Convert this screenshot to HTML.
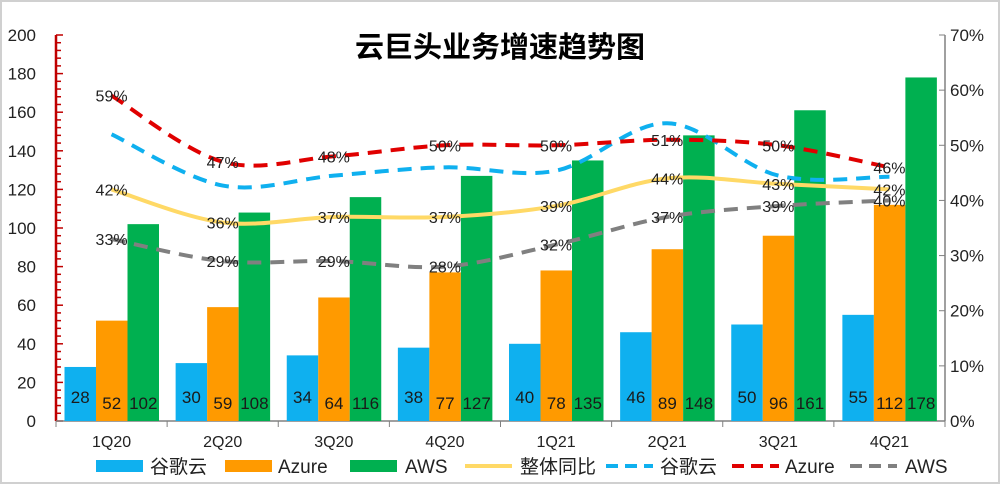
<!DOCTYPE html>
<html><head><meta charset="utf-8"><style>
html,body{margin:0;padding:0;background:#fff}
svg{display:block}
text{font-family:"Liberation Sans","Noto Sans CJK SC",sans-serif}
</style></head><body>
<svg id="c" width="1000" height="484" xmlns="http://www.w3.org/2000/svg"></svg>
<script>
const s=document.getElementById('c');let h='';
h+='<rect x="1" y="1" width="998" height="482" fill="#fff" stroke="#d0d0d0" stroke-width="2"/>';
h+='<text x="500" y="57" text-anchor="middle" font-size="29" font-weight="bold" fill="#000">云巨头业务增速趋势图</text>';
const X0=56,X1=945,Y0=421,Y200=35,gw=(X1-X0)/8;
const yv=v=>Y0-(Y0-Y200)*v/200, yp=p=>Y0-(Y0-Y200)*p/70;
// left labels and axis
for(let v=0;v<=200;v+=20){h+=`<text x="36" y="${yv(v)+6}" text-anchor="end" font-size="17" fill="#222">${v}</text>`;}
for(let v=0;v<=200;v+=4){h+=`<line x1="${X0}" x2="${v%20==0?63:61}" y1="${yv(v)}" y2="${yv(v)}" stroke="#c00000" stroke-width="1.5"/>`;}
h+=`<line x1="${X0}" x2="${X0}" y1="${Y200}" y2="${Y0}" stroke="#c00000" stroke-width="2.5"/>`;
// right
h+=`<line x1="${X1}" x2="${X1}" y1="${Y200}" y2="${Y0}" stroke="#808080" stroke-width="1.5"/>`;
for(let p=0;p<=70;p+=10){h+=`<line x1="${X1}" x2="${X1-6}" y1="${yp(p)}" y2="${yp(p)}" stroke="#808080"/><text x="950" y="${yp(p)+6}" font-size="17" fill="#222">${p}%</text>`;}
// bottom axis
h+=`<line x1="${X0}" x2="${X1}" y1="${Y0}" y2="${Y0}" stroke="#808080" stroke-width="1.5"/>`;
const cats=['1Q20','2Q20','3Q20','4Q20','1Q21','2Q21','3Q21','4Q21'];
const g=[28,30,34,38,40,46,50,55],a=[52,59,64,77,78,89,96,112],w=[102,108,116,127,135,148,161,178];
for(let i=0;i<=8;i++){const x=X0+i*gw;h+=`<line x1="${x}" x2="${x}" y1="${Y0}" y2="${Y0+6}" stroke="#808080"/>`;}
const bw=31.5;
for(let i=0;i<8;i++){
 const gx=X0+i*gw+8.5;
 h+=`<text x="${X0+i*gw+gw/2}" y="447" text-anchor="middle" font-size="16" fill="#222">${cats[i]}</text>`;
 [[g,'#0fb0ef',397],[a,'#ff9a00',403],[w,'#00b050',403]].forEach((d,k)=>{
  const x=gx+k*bw,y=yv(d[0][i]);
  h+=`<rect x="${x}" y="${y}" width="${bw}" height="${Y0-y}" fill="${d[1]}"/>`;
 });
 [[g,397],[a,403],[w,403]].forEach((d,k)=>{h+=`<text x="${gx+k*bw+bw/2}" y="${d[1]+6}" text-anchor="middle" font-size="17" fill="#1a1a1a">${d[0][i]}</text>`;});
}
function path(vals){const p=vals.map((v,i)=>[X0+i*gw+gw/2,yp(v)]);let d=`M${p[0][0]},${p[0][1]}`;
 for(let i=0;i<p.length-1;i++){const p0=p[i-1]||p[i],p1=p[i],p2=p[i+1],p3=p[i+2]||p2;const t=6;
 d+=` C${p1[0]+(p2[0]-p0[0])/t},${p1[1]+(p2[1]-p0[1])/t} ${p2[0]-(p3[0]-p1[0])/t},${p2[1]-(p3[1]-p1[1])/t} ${p2[0]},${p2[1]}`;}return d;}
const tot=[42,36,37,37,39,44,43,42],gg=[52,42.7,44.5,46,45.4,54,44.5,44.3],az=[59,47,48,50,50,51,50,46],aw=[33,29,29,28,32,37,39,40];
h+=`<path d="${path(tot)}" fill="none" stroke="#ffd966" stroke-width="4"/>`;
h+=`<path d="${path(gg)}" fill="none" stroke="#0fb0ef" stroke-width="4" stroke-dasharray="14,9"/>`;
h+=`<path d="${path(az)}" fill="none" stroke="#e00000" stroke-width="4" stroke-dasharray="14,9"/>`;
h+=`<path d="${path(aw)}" fill="none" stroke="#808080" stroke-width="4" stroke-dasharray="14,9"/>`;
[tot,az,aw].forEach(v=>v.forEach((p,i)=>{h+=`<text x="${X0+i*gw+gw/2}" y="${yp(p)+6}" text-anchor="middle" font-size="16" fill="#222">${p}%</text>`;}));
// legend
const L=[['r','#0fb0ef',96,'谷歌云',150],['r','#ff9a00',225,'Azure',278],['r','#00b050',350,'AWS',405],['l','#ffd966',465,'整体同比',520],['d','#0fb0ef',606,'谷歌云',660],['d','#e00000',732,'Azure',785],['d','#808080',850,'AWS',905]];
L.forEach(l=>{
 if(l[0]=='r')h+=`<rect x="${l[2]}" y="460" width="47" height="12" fill="${l[1]}"/>`;
 else h+=`<line x1="${l[2]}" x2="${l[2]+47}" y1="466" y2="466" stroke="${l[1]}" stroke-width="4" ${l[0]=='d'?'stroke-dasharray="12,7"':''}/>`;
 h+=`<text x="${l[4]}" y="473" font-size="19" fill="#222">${l[3]}</text>`;
});
s.innerHTML=h;
</script>
</body></html>
